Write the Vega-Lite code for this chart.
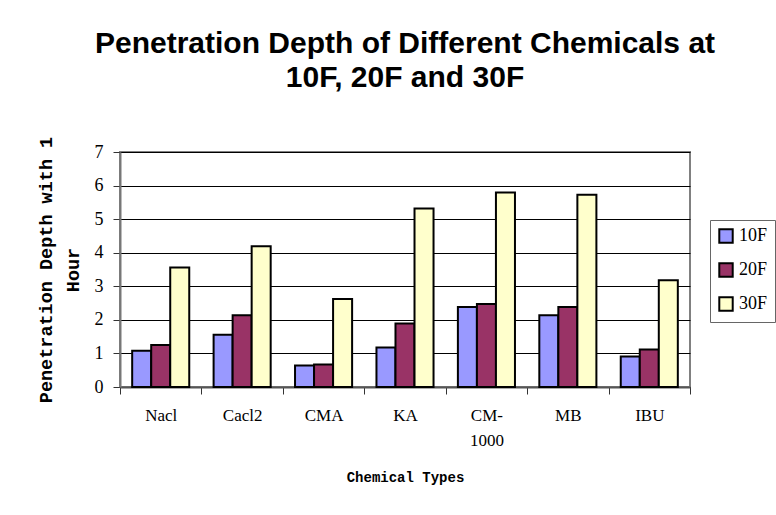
{
  "$schema": "https://vega.github.io/schema/vega-lite/v6.json",
  "autosize": "none",
  "width": 570,
  "height": 235,
  "padding": {"left": 120, "top": 152, "right": 86, "bottom": 128},
  "background": "white",
  "title": {
    "text": ["Penetration Depth of Different Chemicals at", "10F, 20F and 30F"],
    "font": "Liberation Sans",
    "fontSize": 30,
    "fontWeight": "bold",
    "color": "black",
    "lineHeight": 34,
    "anchor": "middle",
    "frame": "group",
    "offset": 43
  },
  "data": {
    "values": [
      {"chemical": "Nacl", "temp": "10F", "depth": 1.08},
      {"chemical": "Nacl", "temp": "20F", "depth": 1.25},
      {"chemical": "Nacl", "temp": "30F", "depth": 3.56},
      {"chemical": "Cacl2", "temp": "10F", "depth": 1.56},
      {"chemical": "Cacl2", "temp": "20F", "depth": 2.14},
      {"chemical": "Cacl2", "temp": "30F", "depth": 4.19},
      {"chemical": "CMA", "temp": "10F", "depth": 0.64},
      {"chemical": "CMA", "temp": "20F", "depth": 0.67},
      {"chemical": "CMA", "temp": "30F", "depth": 2.62},
      {"chemical": "KA", "temp": "10F", "depth": 1.18},
      {"chemical": "KA", "temp": "20F", "depth": 1.89},
      {"chemical": "KA", "temp": "30F", "depth": 5.32},
      {"chemical": "CM-1000", "temp": "10F", "depth": 2.38},
      {"chemical": "CM-1000", "temp": "20F", "depth": 2.47},
      {"chemical": "CM-1000", "temp": "30F", "depth": 5.79},
      {"chemical": "MB", "temp": "10F", "depth": 2.14},
      {"chemical": "MB", "temp": "20F", "depth": 2.38},
      {"chemical": "MB", "temp": "30F", "depth": 5.73},
      {"chemical": "IBU", "temp": "10F", "depth": 0.91},
      {"chemical": "IBU", "temp": "20F", "depth": 1.12},
      {"chemical": "IBU", "temp": "30F", "depth": 3.18}
    ]
  },
  "mark": {"type": "bar", "stroke": "black", "strokeWidth": 2},
  "encoding": {
    "x": {
      "field": "chemical",
      "type": "nominal",
      "sort": ["Nacl", "Cacl2", "CMA", "KA", "CM-1000", "MB", "IBU"],
      "scale": {"paddingInner": 0, "paddingOuter": 0},
      "axis": {
        "title": "Chemical Types",
        "titleFont": "Liberation Mono",
        "titleFontSize": 14,
        "titleFontWeight": "bold",
        "titleColor": "black",
        "titlePadding": 22,
        "labelFont": "Liberation Serif",
        "labelFontSize": 17,
        "labelColor": "black",
        "labelAngle": 0,
        "labelPadding": 13,
        "labelLineHeight": 25,
        "labelBaseline": "top",
        "labelExpr": "datum.value == 'CM-1000' ? ['CM-', '1000'] : datum.value",
        "tickBand": "extent",
        "tickSize": 7,
        "tickColor": "#333",
        "domainColor": "#555",
        "domainWidth": 2,
        "grid": false
      }
    },
    "xOffset": {
      "field": "temp",
      "type": "nominal",
      "scale": {"paddingInner": 0, "paddingOuter": 0.64}
    },
    "y": {
      "field": "depth",
      "type": "quantitative",
      "scale": {"domain": [0, 7], "nice": false},
      "axis": {
        "title": ["Penetration Depth with 1", "Hour"],
        "titleFont": "Liberation Mono",
        "titleFontSize": 18.5,
        "titleFontWeight": "bold",
        "titleColor": "black",
        "titleLineHeight": 27,
        "titlePadding": 12,
        "labelFont": "Liberation Serif",
        "labelFontSize": 18,
        "labelColor": "black",
        "labelPadding": 10,
        "values": [0, 1, 2, 3, 4, 5, 6, 7],
        "labelOverlap": false,
        "tickSize": 7,
        "tickColor": "#333",
        "domainColor": "#777",
        "domainWidth": 2,
        "gridColor": "black",
        "gridWidth": 1,
        "gridOpacity": 1
      }
    },
    "color": {
      "field": "temp",
      "type": "nominal",
      "scale": {"domain": ["10F", "20F", "30F"], "range": ["#9999FF", "#993366", "#FFFFCC"]},
      "legend": {
        "title": null,
        "orient": "none",
        "legendX": 590,
        "legendY": 68,
        "symbolType": "square",
        "symbolSize": 180,
        "symbolStrokeColor": "black",
        "symbolStrokeWidth": 2,
        "symbolOpacity": 1,
        "labelFont": "Liberation Serif",
        "labelFontSize": 18,
        "labelColor": "black",
        "labelOffset": 4,
        "rowPadding": 12,
        "strokeColor": "#666",
        "padding": 7,
        "fillColor": "white"
      }
    }
  },
  "config": {
    "view": {"stroke": "#808080", "strokeWidth": 2}
  }
}
